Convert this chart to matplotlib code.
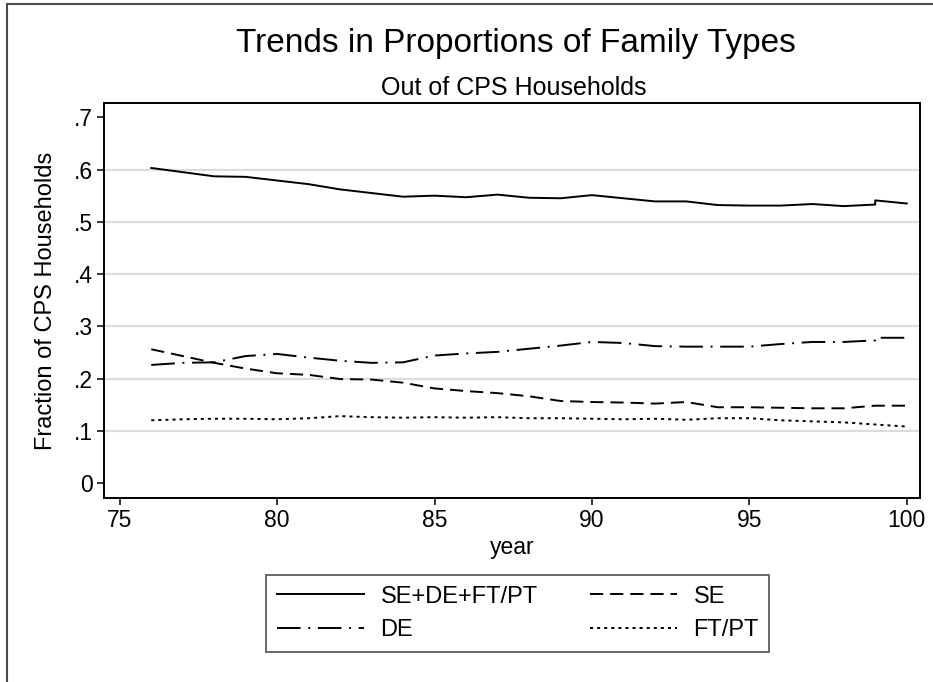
import numpy as np
import matplotlib
matplotlib.use("Agg")
import matplotlib.pyplot as plt
from matplotlib.lines import Line2D

plt.rcParams['font.family'] = ['Liberation Sans', 'DejaVu Sans']
plt.rcParams['lines.scale_dashes'] = False

# survey years (1999 appears twice in the file)
year = [76, 77, 78, 79, 80, 81, 82, 83, 84, 85, 86, 87, 88, 89, 90,
        91, 92, 93, 94, 95, 96, 97, 98, 99, 99, 100]

# share of CPS households by family type
all_types = [0.603, 0.595, 0.587, 0.586, 0.579, 0.572, 0.562, 0.555, 0.548, 0.550,
             0.547, 0.552, 0.546, 0.545, 0.551, 0.545, 0.539, 0.539, 0.532, 0.531,
             0.531, 0.534, 0.530, 0.533, 0.541, 0.535]
se = [0.256, 0.243, 0.230, 0.219, 0.210, 0.207, 0.199, 0.198, 0.192, 0.181,
      0.176, 0.172, 0.166, 0.157, 0.155, 0.154, 0.152, 0.155, 0.145, 0.145,
      0.144, 0.143, 0.143, 0.148, 0.148, 0.148]
de = [0.226, 0.230, 0.231, 0.243, 0.247, 0.240, 0.234, 0.230, 0.231, 0.244,
      0.248, 0.251, 0.257, 0.263, 0.270, 0.268, 0.262, 0.261, 0.261, 0.261,
      0.266, 0.270, 0.270, 0.273, 0.278, 0.278]
ftpt = [0.120, 0.122, 0.123, 0.123, 0.122, 0.124, 0.128, 0.126, 0.125, 0.126,
        0.125, 0.126, 0.124, 0.124, 0.123, 0.122, 0.123, 0.121, 0.124, 0.124,
        0.120, 0.118, 0.116, 0.112, 0.112, 0.108]

xticks = [75, 80, 85, 90, 95, 100]
yticks = [0, 0.1, 0.2, 0.3, 0.4, 0.5, 0.6, 0.7]
ytick_labels = ['0', '.1', '.2', '.3', '.4', '.5', '.6', '.7']

fig = plt.figure(figsize=(9.33, 6.82), dpi=100)
ax = fig.add_axes([0.1115, 0.2698, 0.8745, 0.5792])

lw = 1.4
ax.plot(year, all_types, color='black', lw=lw, ls='-', label='SE+DE+FT/PT')
ax.plot(year, de, color='black', lw=lw, ls=(0, (17, 5.5, 1.4, 5.5)), label='DE')
ax.plot(year, se, color='black', lw=lw, ls=(0, (9.5, 5)), label='SE')
ax.plot(year, ftpt, color='black', lw=lw, ls=(0, (2.2, 2.9)), label='FT/PT')

# light horizontal grid, not at the axis ends
for t in yticks[1:-1]:
    ax.axhline(t, color='#dcdcdc', lw=1.6, zorder=0)

ax.set_xlim(74.5, 100.42)
ax.set_ylim(-0.0287, 0.7274)
ax.set_xticks(xticks)
ax.set_yticks(yticks)
ax.set_yticklabels(ytick_labels)
ax.tick_params(axis='both', direction='out', length=5, width=1.1, labelsize=16.5, pad=3)
for s in ax.spines.values():
    s.set_linewidth(1.4)
    s.set_color('black')

ax.set_xlabel('year', fontsize=16.5, labelpad=3)
ax.set_ylabel('Fraction of CPS Households', fontsize=17)
ax.yaxis.set_label_coords(-0.058, 0.5)

fig.text(516 / 933, 1 - 52 / 682, 'Trends in Proportions of Family Types',
         ha='center', va='baseline', fontsize=24)
fig.text(514 / 933, 1 - 95 / 682, 'Out of CPS Households',
         ha='center', va='baseline', fontsize=18)

leg = ax.legend(loc='upper left', bbox_to_anchor=(266 / 933, 1 - 575 / 682),
                bbox_transform=fig.transFigure, borderaxespad=0, ncol=2, fontsize=17,
                handlelength=3.7, handletextpad=0.7, columnspacing=2.2,
                labelspacing=0.5, borderpad=0.45, fancybox=False, frameon=True)
leg.get_frame().set_edgecolor('#333333')
leg.get_frame().set_linewidth(1.3)

# outer graph border (left and top edges)
fig.add_artist(Line2D([7.5 / 933, 7.5 / 933], [0, 1 - 3.5 / 682],
                      transform=fig.transFigure, color='#4d4d4d', lw=1.5))
fig.add_artist(Line2D([7.5 / 933, 1], [1 - 3.5 / 682, 1 - 3.5 / 682],
                      transform=fig.transFigure, color='#4d4d4d', lw=1.5))

fig.savefig('out.png', dpi=100)
